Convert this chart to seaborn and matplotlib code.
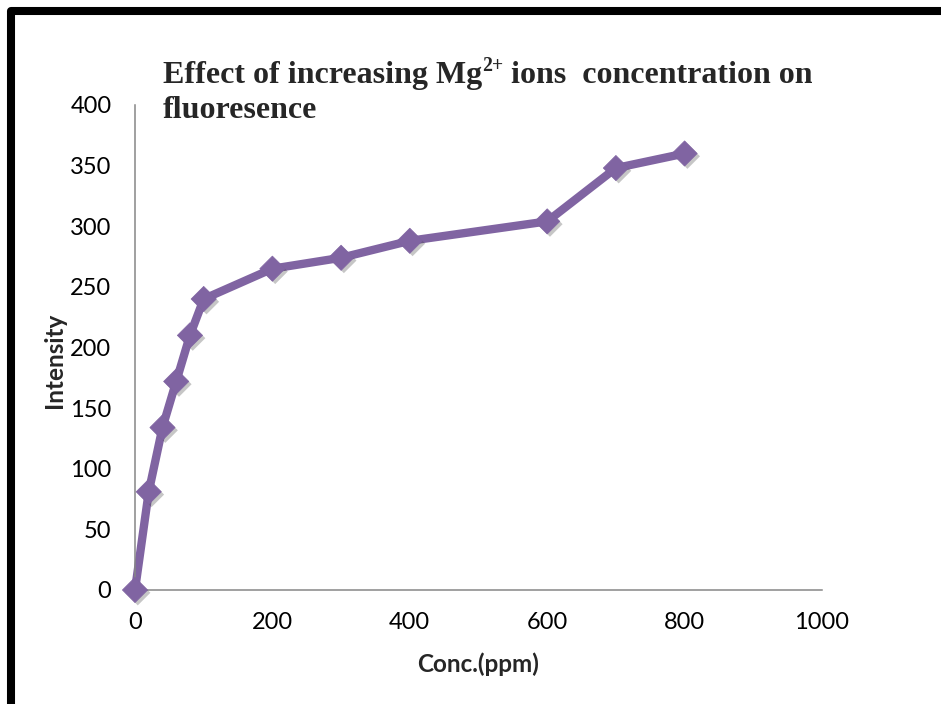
import matplotlib
matplotlib.use("Agg")
import matplotlib.pyplot as plt
import matplotlib.patheffects as pe
from matplotlib.patches import Rectangle
from matplotlib.transforms import offset_copy
import seaborn as sns
import pandas as pd

# ---- data ----
conc_ppm = [0, 20, 40, 60, 80, 100, 200, 300, 400, 600, 700, 800]
intensity = [0, 81, 134, 172, 210, 240, 265, 274, 288, 304, 348, 360]
x_ticks = [0, 200, 400, 600, 800, 1000]
y_ticks = [0, 50, 100, 150, 200, 250, 300, 350, 400]
title_a = "Effect of increasing Mg"
title_sup = "2+"
title_b = " ions  concentration on"
title_line2 = "fluoresence"
x_label = "Conc.(ppm)"
y_label = "Intensity"

df = pd.DataFrame({"Conc": conc_ppm, "Intensity": intensity})

sns.set_style("white")
plt.rcParams["font.family"] = ["Lato", "DejaVu Sans"]

W, H = 941, 704
fig = plt.figure(figsize=(W / 100, H / 100), dpi=100)
ax = fig.add_axes([135 / W, 1 - 590 / H, (822 - 135) / W, (590 - 105) / H])

purple = "#8064A2"
sns.lineplot(data=df, x="Conc", y="Intensity", ax=ax, color=purple,
             linewidth=6.0, solid_joinstyle="round")
sns.scatterplot(data=df, x="Conc", y="Intensity", ax=ax, color=purple,
                marker="D", s=165, edgecolor=purple, linewidth=0.5, zorder=3, clip_on=False)
for coll in ax.collections:
    coll.set_path_effects([pe.SimplePatchShadow(offset=(2, -2), shadow_rgbFace="#444444", alpha=0.3),
                           pe.Normal()])
for ln in ax.lines:
    ln.set_clip_on(False)

ax.set_xlim(0, 1000)
ax.set_ylim(0, 400)
ax.set_xticks(x_ticks)
ax.set_yticks(y_ticks)
for s in ["top", "right"]:
    ax.spines[s].set_visible(False)
for s in ["left", "bottom"]:
    ax.spines[s].set_color("#868686")
    ax.spines[s].set_linewidth(1.1)
ax.tick_params(axis="both", which="major", direction="out", length=5, width=1.1,
               color="#868686", labelsize=17, labelcolor="black")
ax.tick_params(axis="y", pad=12)
ax.tick_params(axis="x", pad=11)
ax.set_xlabel("")
ax.set_ylabel("")

fig.text(478 / W, 1 - 672 / H, x_label, ha="center", va="baseline",
         fontsize=17.5, fontweight="bold")
fig.text(54 / W, 1 - 360 / H, y_label, ha="center", va="center", rotation=90,
         fontsize=17.5, fontweight="bold")

serif = ["Liberation Serif", "DejaVu Serif"]
tfs = 23
renderer = fig.canvas.get_renderer()
t1 = fig.text(163 / W, 1 - 83 / H, title_a, ha="left", va="baseline",
              fontsize=tfs, fontweight="bold", family=serif)
w1 = t1.get_window_extent(renderer).width
tr = offset_copy(fig.transFigure, fig=fig, x=w1 * 72 / fig.dpi, y=8.5, units="points")
t2 = fig.text(163 / W, 1 - 83 / H, title_sup, ha="left", va="baseline", transform=tr,
              fontsize=tfs * 0.62, fontweight="bold", family=serif)
w2 = t2.get_window_extent(renderer).width
tr2 = offset_copy(fig.transFigure, fig=fig, x=(w1 + w2) * 72 / fig.dpi, y=0, units="points")
fig.text(163 / W, 1 - 83 / H, title_b, ha="left", va="baseline", transform=tr2,
         fontsize=tfs, fontweight="bold", family=serif)
fig.text(163 / W, 1 - 118 / H, title_line2, ha="left", va="baseline",
         fontsize=tfs, fontweight="bold", family=serif)

# frame border (extends off the right and bottom)
fig.add_artist(Rectangle((11 / W, -0.2), 1.5, (1 - 11 / H) + 0.2, transform=fig.transFigure,
                         fill=False, edgecolor="black", linewidth=5.8, joinstyle="round",
                         clip_on=False))

fig.savefig("out.png", dpi=100, facecolor="white")
